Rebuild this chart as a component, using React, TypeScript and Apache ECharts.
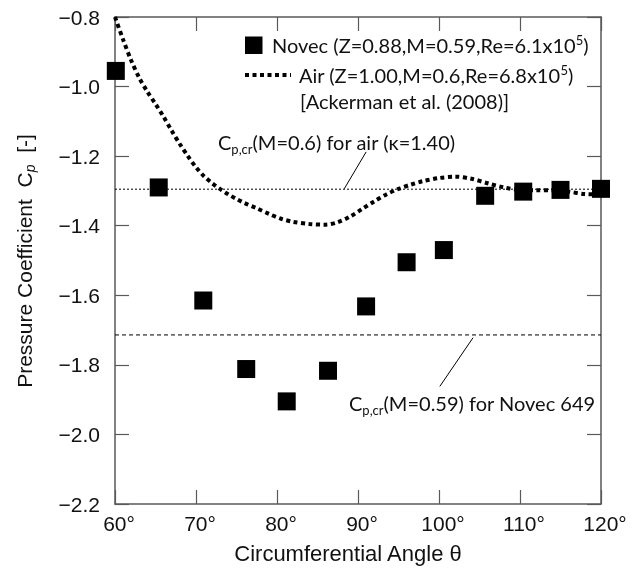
import { useEffect, useRef } from "react";
import * as echarts from "echarts";

// Novec 649 measurements (squares)
const novecAngle = [60.1, 65.4, 70.9, 76.2, 81.2, 86.3, 91.0, 96.0, 100.6, 105.7, 110.4, 115.0, 120.0];
const novecCp = [-0.955, -1.29, -1.615, -1.812, -1.905, -1.817, -1.632, -1.505, -1.47, -1.314, -1.302, -1.297, -1.294];

// Air reference curve (Ackerman et al. 2008)
const airAngle = [60, 61, 62, 63, 64, 65, 66, 67, 68, 69, 70, 71, 72, 73, 74, 75, 76, 77.5, 79, 80.5, 82, 84, 86, 87.5, 89, 90.5, 92, 93.5, 95, 96.5, 98, 100, 102, 104, 106, 108, 110, 112, 114, 116, 118, 120];
const airCp = [-0.8, -0.865, -0.925, -0.975, -1.015, -1.05, -1.087, -1.127, -1.165, -1.2, -1.232, -1.258, -1.278, -1.295, -1.31, -1.323, -1.335, -1.35, -1.366, -1.38, -1.389, -1.395, -1.397, -1.39, -1.374, -1.352, -1.33, -1.31, -1.294, -1.282, -1.272, -1.263, -1.259, -1.265, -1.278, -1.29, -1.297, -1.298, -1.298, -1.302, -1.309, -1.31];

// critical pressure coefficients
const crAir = -1.295;
const crNovec = -1.714;
const lineSpan = [60, 120];

// leader lines (data coordinates)
const leaderAir = [[91.0, -1.188], [88.3, -1.294]];
const leaderNovec = [[104.2, -1.722], [100.1, -1.862]];

const xTicks = { min: 60, max: 120, interval: 10 };
const yTicks = { min: -2.2, max: -0.8, interval: 0.2 };

const frame = "#595959";
const ink = "#111";
const calib = "Lato";
const arial = "Arial";

const mainTok = { fontSize: 20, fontFamily: calib, fill: ink, color: ink, lineHeight: 24 };
const subTok = { fontSize: 13, fontFamily: calib, fill: ink, color: ink, lineHeight: 13, padding: [14, 0, 0, 0] };
const supTok = { fontSize: 13, fontFamily: calib, fill: ink, color: ink, lineHeight: 13, padding: [0, 0, 11, 0] };

function richText(x: number, y: number, text: string, align = "left") {
  return {
    type: "text",
    x,
    y,
    z: 100,
    style: {
      text,
      align,
      verticalAlign: "middle",
      rich: { m: mainTok, s: subTok, u: supTok },
    },
  };
}

export default function App() {
  const ref = useRef<HTMLDivElement>(null);
  useEffect(() => {
    const chart = echarts.init(ref.current!, null, { renderer: "svg" });
    const axisLine = { show: true, onZero: false, lineStyle: { color: frame, width: 1.5 } };
    const axisTick = { show: true, inside: true, length: 14, lineStyle: { color: frame, width: 1.2 } };
    const legendY2 = 75;
    const legendY3 = 101;
    chart.setOption({
      animation: false,
      grid: { left: 115, right: 43, top: 17, bottom: 67 },
      xAxis: [
        {
          type: "value", ...xTicks, position: "bottom",
          axisLine, axisTick,
          axisLabel: { formatter: (v: number) => v + "°", fontSize: 21, color: ink, fontFamily: arial, margin: 9, padding: [0, 0, 0, 8] },
          splitLine: { show: false },
        },
        {
          type: "value", ...xTicks, position: "top",
          axisLine, axisTick, axisLabel: { show: false }, splitLine: { show: false },
        },
      ],
      yAxis: [
        {
          type: "value", ...yTicks, position: "left",
          axisLine, axisTick,
          axisLabel: { formatter: (v: number) => v.toFixed(1).replace("-", "\u2212"), fontSize: 21, color: ink, fontFamily: arial, margin: 15 },
          splitLine: { show: false },
        },
        {
          type: "value", ...yTicks, position: "right",
          axisLine, axisTick, axisLabel: { show: false }, splitLine: { show: false },
        },
      ],
      series: [
        {
          type: "line", name: "crAir", data: lineSpan.map((a) => [a, crAir]), showSymbol: false, symbol: "none",
          lineStyle: { color: "#000", width: 1, type: [2, 2] }, z: 2,
        },
        {
          type: "line", name: "crNovec", data: lineSpan.map((a) => [a, crNovec]), showSymbol: false, symbol: "none",
          lineStyle: { color: "#000", width: 1, type: [4, 3] }, z: 2,
        },
        {
          type: "line", name: "leaderAir", data: leaderAir, showSymbol: false, symbol: "none",
          lineStyle: { color: "#000", width: 1 }, z: 2,
        },
        {
          type: "line", name: "leaderNovec", data: leaderNovec, showSymbol: false, symbol: "none",
          lineStyle: { color: "#000", width: 1 }, z: 2,
        },
        {
          type: "line", name: "Air", data: airAngle.map((a, i) => [a, airCp[i]]), showSymbol: false, symbol: "none",
          smooth: 0.3, clip: true,
          lineStyle: { color: "#000", width: 4, type: [4, 3.5], cap: "butt" }, z: 3,
        },
        {
          type: "scatter", name: "Novec", data: novecAngle.map((a, i) => [a, novecCp[i]]),
          symbol: "rect", symbolSize: 18, clip: false,
          itemStyle: { color: "#000", opacity: 1 }, z: 4,
        },
      ],
      graphic: [
        // legend
        { type: "rect", z: 100, shape: { x: 245, y: 36.5, width: 17.5, height: 17.5 }, style: { fill: "#000" } },
        { type: "line", z: 100, shape: { x1: 245, y1: legendY2, x2: 291, y2: legendY2 }, style: { stroke: "#000", lineWidth: 4, lineDash: [4, 3.5] } },
        richText(272, 45, "{m|Novec (Z=0.88,M=0.59,Re=6.1x10}{u|5}{m|)}"),
        richText(299, legendY2, "{m|Air (Z=1.00,M=0.6,Re=6.8x10}{u|5}{m|)}"),
        richText(300, legendY3, "{m|[Ackerman et al. (2008)]}"),
        // annotations
        richText(218, 142, "{m|C}{s|p,cr}{m|(M=0.6) for air (κ=1.40)}"),
        richText(349, 403, "{m|C}{s|p,cr}{m|(M=0.59) for Novec 649}"),
        // axis titles
        {
          type: "text", x: 348, y: 553, z: 100,
          style: { text: "Circumferential Angle θ", fontSize: 22, fontFamily: arial, fill: ink, align: "center", verticalAlign: "middle" },
        },
        {
          type: "text", x: 24, y: 261, rotation: Math.PI / 2, z: 100,
          style: {
            text: "{a|Pressure Coefficient  C}{p|p}{a|  [-]}",
            align: "center", verticalAlign: "middle",
            rich: {
              a: { fontSize: 21, fontFamily: arial, fill: ink, lineHeight: 24 },
              p: { fontSize: 14, fontFamily: arial, fontStyle: "italic", fill: ink, lineHeight: 14, padding: [12, 0, 0, 0] },
            },
          },
        },
      ],
    });
    return () => chart.dispose();
  }, []);
  return <div ref={ref} style={{ position: "fixed", left: 0, top: 0, width: 644, height: 571 }} />;
}
